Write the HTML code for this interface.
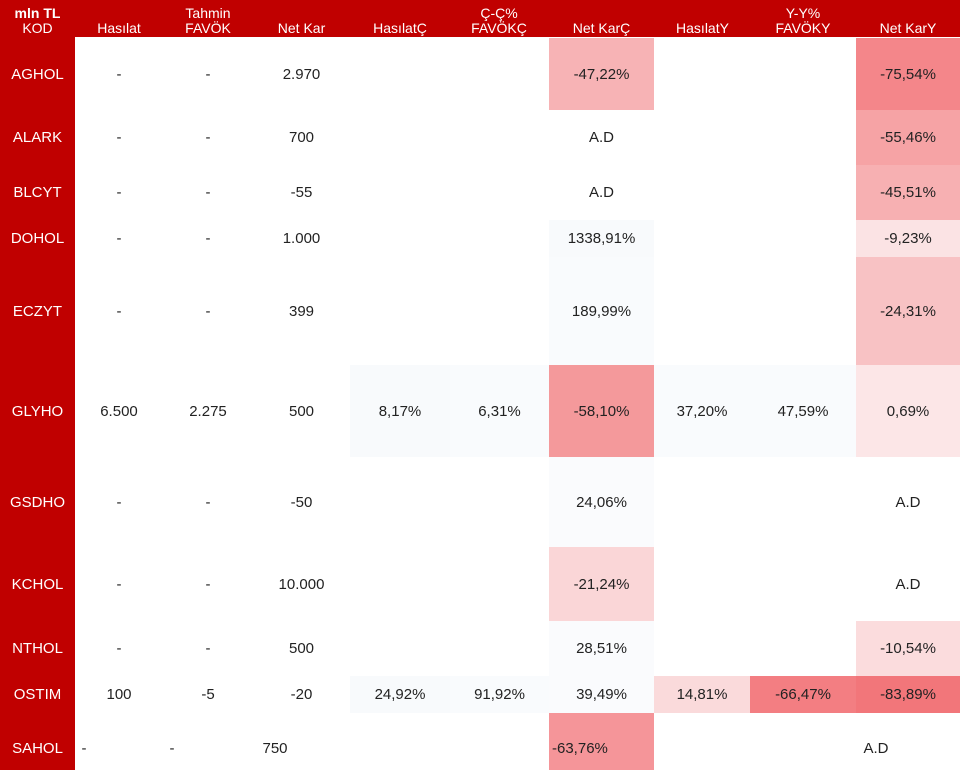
<!DOCTYPE html>
<html><head><meta charset="utf-8"><style>
body{margin:0;width:960px;height:770px;background:#fff;position:relative;overflow:hidden;font-family:"Liberation Sans",sans-serif;font-size:15px;color:#222}
.h{position:absolute;top:0;height:37px;background:#c00000;left:0;width:960px}
.k{position:absolute;left:0;width:75px;top:37px;height:733px;background:#c00000}
.t{position:absolute;color:#fff;text-align:center;line-height:15px;font-size:14px}
.c{position:absolute;display:flex;align-items:center;justify-content:center}
.r{position:absolute;left:0;width:75px;color:#fff;display:flex;align-items:center;justify-content:center;font-size:15px}
.s{padding-top:14px;box-sizing:border-box}
</style></head><body>
<div class="h"></div><div class="k"></div>
<div class="t" style="left:0;width:75px;top:6px"><b>mln TL</b><br>KOD</div>
<div class="t" style="left:75px;width:88px;top:21px">Hasılat</div>
<div class="t" style="left:163px;width:90px;top:6px">Tahmin<br>FAVÖK</div>
<div class="t" style="left:253px;width:97px;top:21px">Net Kar</div>
<div class="t" style="left:350px;width:100px;top:21px">HasılatÇ</div>
<div class="t" style="left:450px;width:98px;top:6px">Ç-Ç%<br>FAVÖKÇ</div>
<div class="t" style="left:548px;width:107px;top:21px">Net KarÇ</div>
<div class="t" style="left:655px;width:95px;top:21px">HasılatY</div>
<div class="t" style="left:750px;width:106px;top:6px">Y-Y%<br>FAVÖKY</div>
<div class="t" style="left:856px;width:104px;top:21px">Net KarY</div>

<div class="r" style="top:38px;height:72px">AGHOL</div>
<div class="c" style="left:75px;width:88px;top:38px;height:72px">-</div>
<div class="c" style="left:163px;width:90px;top:38px;height:72px">-</div>
<div class="c" style="left:253px;width:97px;top:38px;height:72px">2.970</div>
<div class="c" style="left:549px;width:105px;top:38px;height:72px;background:#f7b3b5">-47,22%</div>
<div class="c" style="left:856px;width:104px;top:38px;height:72px;background:#f4868a">-75,54%</div>

<div class="r" style="top:110px;height:55px">ALARK</div>
<div class="c" style="left:75px;width:88px;top:110px;height:55px">-</div>
<div class="c" style="left:163px;width:90px;top:110px;height:55px">-</div>
<div class="c" style="left:253px;width:97px;top:110px;height:55px">700</div>
<div class="c" style="left:549px;width:105px;top:110px;height:55px">A.D</div>
<div class="c" style="left:856px;width:104px;top:110px;height:55px;background:#f6a3a5">-55,46%</div>

<div class="r" style="top:165px;height:55px">BLCYT</div>
<div class="c" style="left:75px;width:88px;top:165px;height:55px">-</div>
<div class="c" style="left:163px;width:90px;top:165px;height:55px">-</div>
<div class="c" style="left:253px;width:97px;top:165px;height:55px">-55</div>
<div class="c" style="left:549px;width:105px;top:165px;height:55px">A.D</div>
<div class="c" style="left:856px;width:104px;top:165px;height:55px;background:#f7b0b2">-45,51%</div>

<div class="r" style="top:220px;height:37px">DOHOL</div>
<div class="c" style="left:75px;width:88px;top:220px;height:37px">-</div>
<div class="c" style="left:163px;width:90px;top:220px;height:37px">-</div>
<div class="c" style="left:253px;width:97px;top:220px;height:37px">1.000</div>
<div class="c" style="left:549px;width:105px;top:220px;height:37px;background:#f8fafc">1338,91%</div>
<div class="c" style="left:856px;width:104px;top:220px;height:37px;background:#fbe3e4">-9,23%</div>

<div class="r" style="top:257px;height:108px">ECZYT</div>
<div class="c" style="left:75px;width:88px;top:257px;height:108px">-</div>
<div class="c" style="left:163px;width:90px;top:257px;height:108px">-</div>
<div class="c" style="left:253px;width:97px;top:257px;height:108px">399</div>
<div class="c" style="left:549px;width:105px;top:257px;height:108px;background:#f9fbfd">189,99%</div>
<div class="c" style="left:856px;width:104px;top:257px;height:108px;background:#f8c2c4">-24,31%</div>

<div class="r" style="top:365px;height:92px">GLYHO</div>
<div class="c" style="left:75px;width:88px;top:365px;height:92px">6.500</div>
<div class="c" style="left:163px;width:90px;top:365px;height:92px">2.275</div>
<div class="c" style="left:253px;width:97px;top:365px;height:92px">500</div>
<div class="c" style="left:350px;width:100px;top:365px;height:92px;background:#f8fafc">8,17%</div>
<div class="c" style="left:450px;width:99px;top:365px;height:92px;background:#f9fbfd">6,31%</div>
<div class="c" style="left:549px;width:105px;top:365px;height:92px;background:#f4999b">-58,10%</div>
<div class="c" style="left:654px;width:96px;top:365px;height:92px;background:#f9fbfd">37,20%</div>
<div class="c" style="left:750px;width:106px;top:365px;height:92px;background:#f9fbfd">47,59%</div>
<div class="c" style="left:856px;width:104px;top:365px;height:92px;background:#fce6e7">0,69%</div>

<div class="r" style="top:457px;height:90px">GSDHO</div>
<div class="c" style="left:75px;width:88px;top:457px;height:90px">-</div>
<div class="c" style="left:163px;width:90px;top:457px;height:90px">-</div>
<div class="c" style="left:253px;width:97px;top:457px;height:90px">-50</div>
<div class="c" style="left:549px;width:105px;top:457px;height:90px;background:#fafbfd">24,06%</div>
<div class="c" style="left:856px;width:104px;top:457px;height:90px">A.D</div>

<div class="r" style="top:547px;height:74px">KCHOL</div>
<div class="c" style="left:75px;width:88px;top:547px;height:74px">-</div>
<div class="c" style="left:163px;width:90px;top:547px;height:74px">-</div>
<div class="c" style="left:253px;width:97px;top:547px;height:74px">10.000</div>
<div class="c" style="left:549px;width:105px;top:547px;height:74px;background:#fad6d7">-21,24%</div>
<div class="c" style="left:856px;width:104px;top:547px;height:74px">A.D</div>

<div class="r" style="top:621px;height:55px">NTHOL</div>
<div class="c" style="left:75px;width:88px;top:621px;height:55px">-</div>
<div class="c" style="left:163px;width:90px;top:621px;height:55px">-</div>
<div class="c" style="left:253px;width:97px;top:621px;height:55px">500</div>
<div class="c" style="left:549px;width:105px;top:621px;height:55px;background:#fafbfd">28,51%</div>
<div class="c" style="left:856px;width:104px;top:621px;height:55px;background:#fbdcdd">-10,54%</div>

<div class="r" style="top:676px;height:37px">OSTIM</div>
<div class="c" style="left:75px;width:88px;top:676px;height:37px">100</div>
<div class="c" style="left:163px;width:90px;top:676px;height:37px">-5</div>
<div class="c" style="left:253px;width:97px;top:676px;height:37px">-20</div>
<div class="c" style="left:350px;width:100px;top:676px;height:37px;background:#f8fafc">24,92%</div>
<div class="c" style="left:450px;width:99px;top:676px;height:37px;background:#f9fbfd">91,92%</div>
<div class="c" style="left:549px;width:105px;top:676px;height:37px;background:#fafbfd">39,49%</div>
<div class="c" style="left:654px;width:96px;top:676px;height:37px;background:#fadadb">14,81%</div>
<div class="c" style="left:750px;width:106px;top:676px;height:37px;background:#f37e82">-66,47%</div>
<div class="c" style="left:856px;width:104px;top:676px;height:37px;background:#f2767a">-83,89%</div>

<div class="r s" style="top:713px;height:57px">SAHOL</div>
<div class="c s" style="left:80px;width:8px;top:713px;height:57px">-</div>
<div class="c s" style="left:168px;width:8px;top:713px;height:57px">-</div>
<div class="c s" style="left:258px;width:34px;top:713px;height:57px">750</div>
<div class="c s" style="left:549px;width:105px;top:713px;height:57px;background:#f59599;justify-content:flex-start;padding-left:3px">-63,76%</div>
<div class="c s" style="left:856px;width:40px;top:713px;height:57px">A.D</div>
</body></html>
